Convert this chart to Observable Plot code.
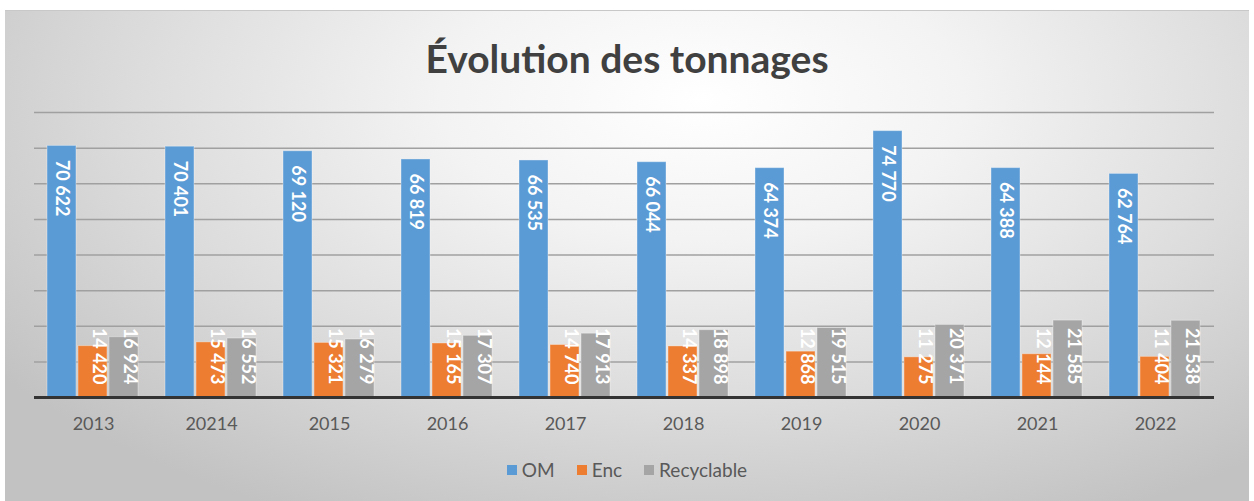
<!DOCTYPE html>
<html>
<head>
<meta charset="utf-8">
<script src="https://cdn.jsdelivr.net/npm/d3@7"></script>
<script src="https://cdn.jsdelivr.net/npm/@observablehq/plot@0.6"></script>
<style>
  html, body { margin: 0; padding: 0; background: #ffffff; }
  body { width: 1254px; height: 501px; overflow: hidden; position: relative; font-family: Lato, "Open Sans", sans-serif; }
  #frame {
    position: absolute; left: 5px; top: 10px; width: 1244px; height: 491px;
    background: radial-gradient(ellipse 70% 95% at 56% 18%, #ffffff 0%, #f3f3f3 30%, #dcdcdc 65%, #c2c2c2 100%);
    border-top: 1px solid #c8c8c8;
  }
  #title {
    position: absolute; left: 0; width: 100%; top: 24px; text-align: center;
    font-family: Lato, sans-serif; font-size: 39px; font-weight: 700; color: #404040;
  }
  #chart { position: absolute; left: 0; top: 80px; }
  #legend {
    position: absolute; left: 0; width: 100%; top: 447px; text-align: center;
    font-family: Lato, sans-serif; font-size: 19px; color: #595959;
  }
  #legend span.item { margin: 0 11px; white-space: nowrap; }
  #legend span.sw { display: inline-block; width: 10px; height: 10px; margin-right: 5px; vertical-align: 2px; }
</style>
</head>
<body>
<div id="frame">
  <div id="title">Évolution des tonnages</div>
  <div id="chart"></div>
  <div id="legend"></div>
</div>
<script>
const years = ["2013", "20214", "2015", "2016", "2017", "2018", "2019", "2020", "2021", "2022"];
const series = ["OM", "Enc", "Recyclable"];
const colors = ["#5B9BD5", "#ED7D31", "#A5A5A5"];
const om  = [70622, 70401, 69120, 66819, 66535, 66044, 64374, 74770, 64388, 62764];
const enc = [14420, 15473, 15321, 15165, 14740, 14337, 12868, 11275, 12144, 11404];
const rec = [16924, 16552, 16279, 17307, 17913, 18898, 19515, 20371, 21585, 21538];
const gridValues = [10000, 20000, 30000, 40000, 50000, 60000, 70000, 80000];

const seriesValues = {OM: om, Enc: enc, Recyclable: rec};
const table = [];
years.forEach((year, i) => {
  series.forEach(s => table.push({year, series: s, value: seriesValues[s][i]}));
});
const fmt = v => d3.format(",")(v).replace(/,/g, " ");

const plot = Plot.plot({
  width: 1244,
  height: 351,
  marginTop: 21,
  marginBottom: 45,
  marginLeft: 28,
  marginRight: 35,
  style: {background: "transparent", fontFamily: "Lato, sans-serif", fontSize: "18px", color: "#595959"},
  facet: {data: table, x: "year"},
  fx: {domain: years, padding: 0, label: null, tickSize: 0, tickPadding: 20},
  x: {domain: series, paddingInner: 0.05, paddingOuter: 0.37, axis: null},
  y: {domain: [0, 80000], axis: null},
  color: {domain: series, range: colors},
  marks: [
    Plot.ruleY(gridValues, {stroke: "#a0a0a0", strokeWidth: 1.5}),
    Plot.barY(table, {x: "series", y: "value", fill: "series", stroke: "#ffffff", strokeOpacity: 0.35, strokeWidth: 1}),
    Plot.ruleY([0], {stroke: "#333333", strokeWidth: 3}),
    Plot.text(table, {filter: d => d.series === "OM", x: "series", y: "value", text: d => fmt(d.value),
      rotate: 90, textAnchor: "start", dy: 14, fill: "white", fontWeight: "bold", fontSize: 18}),
    Plot.text(table, {filter: d => d.series !== "OM", x: "series", frameAnchor: "bottom", text: d => fmt(d.value),
      rotate: 90, textAnchor: "end", dy: -13, fill: "white", fontWeight: "bold", fontSize: 18})
  ]
});
document.getElementById("chart").appendChild(plot);

const legend = document.getElementById("legend");
series.forEach((s, i) => {
  const item = document.createElement("span");
  item.className = "item";
  const sw = document.createElement("span");
  sw.className = "sw";
  sw.style.background = colors[i];
  item.appendChild(sw);
  item.appendChild(document.createTextNode(s));
  legend.appendChild(item);
});
</script>
</body>
</html>
